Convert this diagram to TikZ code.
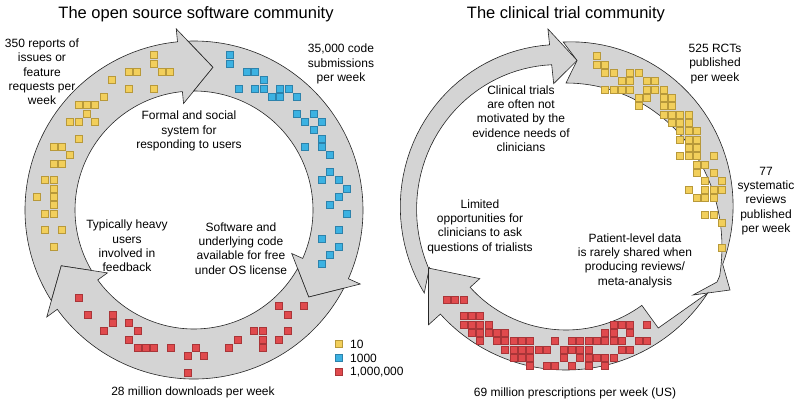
\documentclass[tikz,border=0pt]{standalone}
\usepackage{fontspec}
\setmainfont{Liberation Sans}
\usetikzlibrary{positioning}
\definecolor{ringgrey}{HTML}{D4D4D4}
\definecolor{sqyellow}{HTML}{F2CF5B}
\definecolor{sqyellowedge}{HTML}{B8993A}
\definecolor{sqblue}{HTML}{3CB2E2}
\definecolor{sqblueedge}{HTML}{2D82AB}
\definecolor{sqred}{HTML}{E04A4D}
\definecolor{sqrededge}{HTML}{A93538}
\tikzset{
  ringarrow/.style={fill=ringgrey,draw=black!85,line width=0.6pt,line join=miter},
  ysq/.style={fill=sqyellow,draw=sqyellowedge,line width=0.4pt},
  bsq/.style={fill=sqblue,draw=sqblueedge,line width=0.4pt},
  rsq/.style={fill=sqred,draw=sqrededge,line width=0.4pt},
  lbl/.style={font=\fontsize{12}{14.3}\selectfont,align=center,inner sep=0pt},
  ttl/.style={font=\fontsize{16.5}{19}\selectfont,inner sep=0pt,anchor=base},
}
\begin{document}
\begin{tikzpicture}[x=1pt,y=1pt]
  \useasboundingbox[fill=white] (0,0) rectangle (800,405);
  % open source cycle
  \begin{scope}[shift={(194,195)}]
    \foreach \t/\b in {212.4/95.6, 92/-24, -27.6/-144}
      \draw[ringarrow] (\t:169) arc[start angle=\t,end angle=\b,radius=169] -- (\b:182) -- ({\b-13.2}:144)
        -- (\b:107) -- (\b:119) arc[start angle=\b,end angle={\t-1.85},radius=119] -- ({\t-9.6}:144) -- cycle;
  \end{scope}
  % clinical trial cycle
  \begin{scope}[shift={(566,204)}]
    \draw[ringarrow] plot[domain=213:96,samples=40] (\x:{157+12*(\x-96)/117}) -- (96:173) -- (85.5:141)
      -- (96:118) -- plot[domain=96:211,samples=40] (\x:{137+17*(\x-96)/117}) -- (206:152) -- cycle;
    \draw[ringarrow] plot[domain=91:-22,samples=40] (\x:{159+10*(91-\x)/113}) -- (164,-89) -- (127,-94)
      -- (151,-81) -- plot[domain=-26:90,samples=40] (\x:{118+53*((90-\x)/116)^2}) -- (85.5:141) -- cycle;
    \draw[ringarrow] (-33:169) arc[start angle=-33,end angle=-138,radius=169] -- (-138:185) -- (-154:153)
      -- (-138:116) -- (-138:129) arc[start angle=-138,end angle=-54,radius=129] -- (-54:157) -- cycle;
  \end{scope}
  % squares, left
  \foreach \k/\j in {14/0,14/1,11/2,12/2,15/2,16/2,9/3,11/4,14/4,8/5,5/6,6/6,7/6,6/7,4/8,5/8,7/8,5/10,2/11,3/11,
      4/12,2/13,3/13,1/15,2/15,2/16,0/17,2/17,2/18,1/19,2/19,1/21,3/21,2/23}
    \draw[ysq] ({36.67+8.333*\k-3.5},{350-8.333*\j-3.5}) rectangle ++(7,7);
  \foreach \k/\j in {0/0,0/1,2/2,3/2,4/3,1/4,3/4,4/4,6/4,7/4,5/5,6/5,8/5,8/7,10/7,9/8,11/8,10/9,11/10,9/11,11/11,
      12/12,12/14,11/15,13/15,14/16,13/17,12/18,14/19,13/21,11/22,13/23,12/24,11/25}
    \draw[bsq] ({230+8.333*\k-3.5},{350-8.333*\j-3.5}) rectangle ++(7,7);
  \foreach \k/\j in {0/0,1/2,4/2,4/3,6/3,3/4,7/4,6/5,7/6,8/6,9/6,11/6,14/6,13/7,15/7,13/9,18/6,19/5,21/4,22/4,
      22/5,22/6,24/5,25/4,25/2,24/1,27/1}
    \draw[rsq] ({79+8.333*\k-3.5},{107.33-8.333*\j-3.5}) rectangle ++(7,7);
  % squares, right
  \foreach \k/\j in {0/0,0/1,1/1,1/2,2/2,4/2,5/2,3/3,4/3,6/3,7/3,1/4,2/4,3/4,4/4,6/4,7/4,8/4,5/5,6/5,8/5,9/5,
      5/6,8/6,9/6,8/7,9/7,10/7,11/7,9/8,10/8,11/8,10/9,11/9,12/9,10/10,11/10,12/10,11/11,12/11,10/12,11/12,12/12,
      14/12,12/13,13/13,12/14,14/14,13/15,15/15,11/16,13/16,14/16,15/16,12/17,13/17,14/17,13/19,14/19,15/20,15/23}
    \draw[ysq] ({596.67+8.333*\k-3.5},{349-8.333*\j-3.5}) rectangle ++(7,7);
  \foreach \k/\j in {0/0,1/0,2/0,2/2,3/2,4/2,2/3,3/3,4/3,5/3,20/3,21/3,22/3,24/3,3/4,4/4,5/4,6/4,7/4,19/4,20/4,
      22/4,4/5,6/5,7/5,8/5,9/5,10/5,13/5,15/5,16/5,17/5,18/5,19/5,20/5,21/5,23/5,24/5,7/6,8/6,9/6,10/6,11/6,
      12/6,14/6,15/6,16/6,17/6,21/6,22/6,8/7,9/7,10/7,14/7,16/7,17/7,18/7,19/7,20/7,10/8,12/8,13/8,15/8,17/8,19/8}
    \draw[rsq] ({446.67+8.333*\k-3.5},{105.67-8.333*\j-3.5}) rectangle ++(7,7);
  % titles and labels
  \node[ttl] (ostitle) at (196,386.5) {The open source software community};
  \node[ttl] (cttitle) at (566,386.5) {The clinical trial community};
  \node[lbl] (reports) at (42,333) {350 reports of\\issues or\\feature\\requests per\\week};
  \node[lbl] (submit) at (341,341) {35,000 code\\submissions\\per week};
  \node[lbl] (formal) at (189,274) {Formal and social\\system for\\responding to users};
  \node[lbl] (heavy) at (127,159) {Typically heavy\\users\\involved in\\feedback};
  \node[lbl] (oslicense) at (241,156.5) {Software and\\underlying code\\available for free\\under OS license};
  \node[lbl] (downloads) at (193,13) {28 million downloads per week};
  \node[lbl] (rcts) at (715,341) {525 RCTs\\published\\per week};
  \node[lbl] (reviews) at (766,204) {77\\systematic\\reviews\\published\\per week};
  \node[lbl] (motiv) at (521,286.5) {Clinical trials\\are often not\\motivated by the\\evidence needs of\\clinicians};
  \node[lbl] (limited) at (480,178.5) {Limited\\opportunities for\\clinicians to ask\\questions of trialists};
  \node[lbl] (patient) at (635,144.5) {Patient-level data\\is rarely shared when\\producing reviews/\\meta-analysis};
  \node[lbl] (prescr) at (575,12) {69 million prescriptions per week (US)};
  % legend
  \draw[ysq] (335.5,57.5) rectangle ++(7,7);
  \draw[bsq] (335.5,43.5) rectangle ++(7,7);
  \draw[rsq] (335.5,29.5) rectangle ++(7,7);
  \node[lbl,anchor=west] (leg10) at (350,61) {10};
  \node[lbl,anchor=west] (leg1k) at (350,47) {1000};
  \node[lbl,anchor=west] (leg1m) at (350,33) {1,000,000};
\end{tikzpicture}
\end{document}
